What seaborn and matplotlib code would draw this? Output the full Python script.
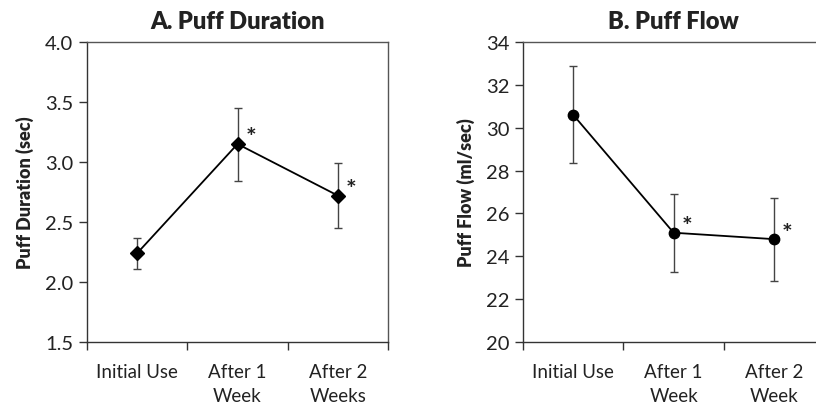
import matplotlib

matplotlib.use("Agg")
import matplotlib.pyplot as plt
import numpy as np
import seaborn as sns

# panel A: puff duration (sec)
dur_labels = ["Initial Use", "After 1\nWeek", "After 2\nWeeks"]
dur_mean = [2.24, 3.15, 2.72]
dur_low = [2.11, 2.84, 2.45]
dur_high = [2.37, 3.45, 2.99]
dur_sig = [False, True, True]

# panel B: puff flow (ml/sec)
flow_labels = ["Initial Use", "After 1\nWeek", "After 2\nWeek"]
flow_mean = [30.6, 25.1, 24.8]
flow_low = [28.35, 23.25, 22.85]
flow_high = [32.9, 26.9, 26.7]
flow_sig = [False, True, True]

sns.set_theme(style="white")
plt.rcParams["font.family"] = ["Lato", "DejaVu Sans"]

TEXT = "#222222"
SPINE = "#555555"


def draw_panel(ax, labels, mean, low, high, sig, marker, msize, title, ylabel, ylim, yticks, fmt):
    pos = np.arange(len(labels))
    sns.pointplot(x=labels, y=mean, ax=ax, color="black", markers=marker,
                  linestyles="-", errorbar=None, markersize=msize, linewidth=1.3)
    yerr = [np.array(mean) - np.array(low), np.array(high) - np.array(mean)]
    ax.errorbar(pos, mean, yerr=yerr, fmt="none", ecolor="#444444",
                elinewidth=1.0, capsize=3, capthick=1.0, zorder=1)
    for p, m, s in zip(pos, mean, sig):
        if s:
            ax.annotate("*", (p, m), xytext=(9.5, -1), textcoords="offset points",
                        fontsize=18, fontweight="bold", color=TEXT,
                        ha="center", va="baseline")
    ax.set_xlim(-0.5, len(labels) - 0.5)
    ax.set_ylim(*ylim)
    ax.set_yticks(yticks)
    ax.set_yticklabels([fmt.format(v) for v in yticks])
    ax.set_xticks(pos)
    ax.set_xticklabels(labels, linespacing=1.5)
    ax.set_xticks(np.arange(len(labels) + 1) - 0.5, minor=True)
    ax.tick_params(axis="x", which="major", length=0, pad=15, labelsize=13.5, labelcolor=TEXT)
    ax.tick_params(axis="x", which="minor", length=6, width=1.0, color="#333333",
                   direction="out", bottom=True)
    ax.tick_params(axis="y", length=6, width=1.0, color="#333333", direction="out",
                   left=True, labelsize=14.5, labelcolor=TEXT, pad=4)
    ax.set_xlabel("")
    ax.set_ylabel(ylabel, fontsize=13, fontweight="heavy", color=TEXT, labelpad=8)
    ax.set_title(title, fontsize=17, fontweight="heavy", color=TEXT, pad=10)
    for sp in ax.spines.values():
        sp.set_color(SPINE)
        sp.set_linewidth(1.0)
    ax.spines["bottom"].set_color("#333333")
    ax.spines["left"].set_color("#333333")


fig = plt.figure(figsize=(8.16, 4.10), dpi=100)
ax1 = fig.add_axes([0.1066, 0.1634, 0.369, 0.7317])
ax2 = fig.add_axes([0.641, 0.1634, 0.369, 0.7317])

draw_panel(ax1, dur_labels, dur_mean, dur_low, dur_high, dur_sig, "D", 7,
           "A. Puff Duration", "Puff Duration (sec)", (1.5, 4.0),
           [1.5, 2.0, 2.5, 3.0, 3.5, 4.0], "{:.1f}")
draw_panel(ax2, flow_labels, flow_mean, flow_low, flow_high, flow_sig, "o", 7.5,
           "B. Puff Flow", "Puff Flow (ml/sec)", (20, 34),
           [20, 22, 24, 26, 28, 30, 32, 34], "{:.0f}")

fig.savefig("out.png", dpi=100, facecolor="white")
